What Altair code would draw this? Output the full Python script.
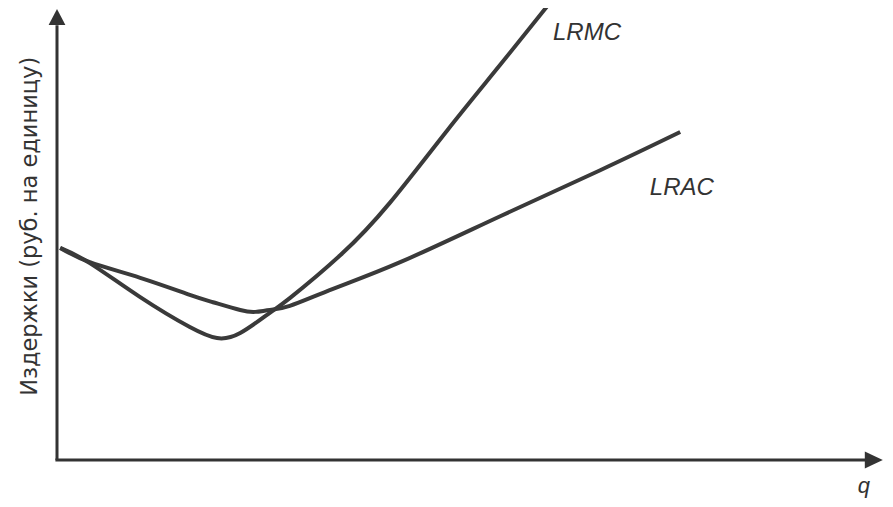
import altair as alt
import pandas as pd

# Data values (arbitrary units: q 0..100 along the horizontal axis, cost 0..100 along the vertical axis)
lrac_q = [0.4, 4.1, 10.4, 16.6, 19.5, 22.9, 24.8, 26.6, 29.1, 34.5, 42.9, 55.4, 67.9, 77.9]
lrac_c = [46.1, 43.0, 39.6, 35.9, 34.3, 32.6, 32.2, 32.6, 33.5, 37.2, 43.0, 53.0, 63.0, 71.3]

lrmc_q = [0.4, 4.1, 10.4, 16.6, 20.0, 22.9, 26.6, 29.1, 35.4, 41.6, 48.8, 55.4, 61.9]
lrmc_c = [46.1, 42.8, 35.4, 28.9, 26.5, 27.6, 32.0, 35.2, 44.5, 55.9, 71.7, 85.9, 100.0]

y_title = "Издержки (руб. на единицу)"
x_title = "q"

curves = pd.DataFrame(
    [{"q": q, "cost": c, "series": "LRAC"} for q, c in zip(lrac_q, lrac_c)]
    + [{"q": q, "cost": c, "series": "LRMC"} for q, c in zip(lrmc_q, lrmc_c)]
)

X_DOM = [-6.125, 103.5]
Y_DOM = [-8.478, 98.26]


def X(field):
    return alt.X(field, type="quantitative", scale=alt.Scale(domain=X_DOM, nice=False, zero=False), axis=None)


def Y(field):
    return alt.Y(field, type="quantitative", scale=alt.Scale(domain=Y_DOM, nice=False, zero=False), axis=None)


INK = "#333333"
CURVE = "#3a3a3a"

lines = alt.Chart(curves).mark_line(
    strokeWidth=4, color=CURVE, interpolate="natural"
).encode(x=X("q"), y=Y("cost"), detail="series:N")

yaxis = alt.Chart(pd.DataFrame({"q": [0.0], "c0": [0.0], "c1": [94.5]})).mark_rule(
    strokeWidth=3, color=INK
).encode(x=X("q"), y=Y("c0"), y2=alt.Y2("c1"))

xaxis = alt.Chart(pd.DataFrame({"c": [0.0], "q0": [-0.2], "q1": [101.0]})).mark_rule(
    strokeWidth=3, color=INK
).encode(y=Y("c"), x=X("q0"), x2=alt.X2("q1"))

up_arrow = alt.Chart(pd.DataFrame({"q": [0.0], "c": [96.3]})).mark_point(
    shape="M-1.05,1L1.05,1L0,-1Z", filled=True, size=256, color=INK, opacity=1
).encode(x=X("q"), y=Y("c"))

right_arrow = alt.Chart(pd.DataFrame({"q": [102.1], "c": [0.0]})).mark_point(
    shape="M-1,-0.95L1,0L-1,0.95Z", filled=True, size=324, color=INK, opacity=1
).encode(x=X("q"), y=Y("c"))

labels = pd.DataFrame({
    "q": [62.0, 74.1],
    "cost": [91.3, 57.6],
    "text": ["LRMC", "LRAC"],
})
label_layer = alt.Chart(labels).mark_text(
    font="Liberation Sans", fontSize=24, fontStyle="italic", color=INK, align="left", baseline="alphabetic"
).encode(x=X("q"), y=Y("cost"), text="text:N")

qlab = alt.Chart(pd.DataFrame({"q": [100.1], "cost": [-7.2], "text": [x_title]})).mark_text(
    font="Liberation Sans", fontSize=22, fontStyle="italic", color=INK, align="left", baseline="alphabetic"
).encode(x=X("q"), y=Y("cost"), text="text:N")

ylab = alt.Chart(pd.DataFrame({"q": [-2.5], "cost": [50.8], "text": [y_title]})).mark_text(
    font="DejaVu Sans", fontSize=22.5, color=INK, align="center", baseline="alphabetic", angle=270
).encode(x=X("q"), y=Y("cost"), text="text:N")

chart = alt.layer(yaxis, xaxis, up_arrow, right_arrow, lines, label_layer, qlab, ylab).properties(
    width=877, height=491, padding=0, autosize="none",
).configure_view(strokeWidth=0)

chart.save("out.html", embed_options={"renderer": "svg", "actions": False})
